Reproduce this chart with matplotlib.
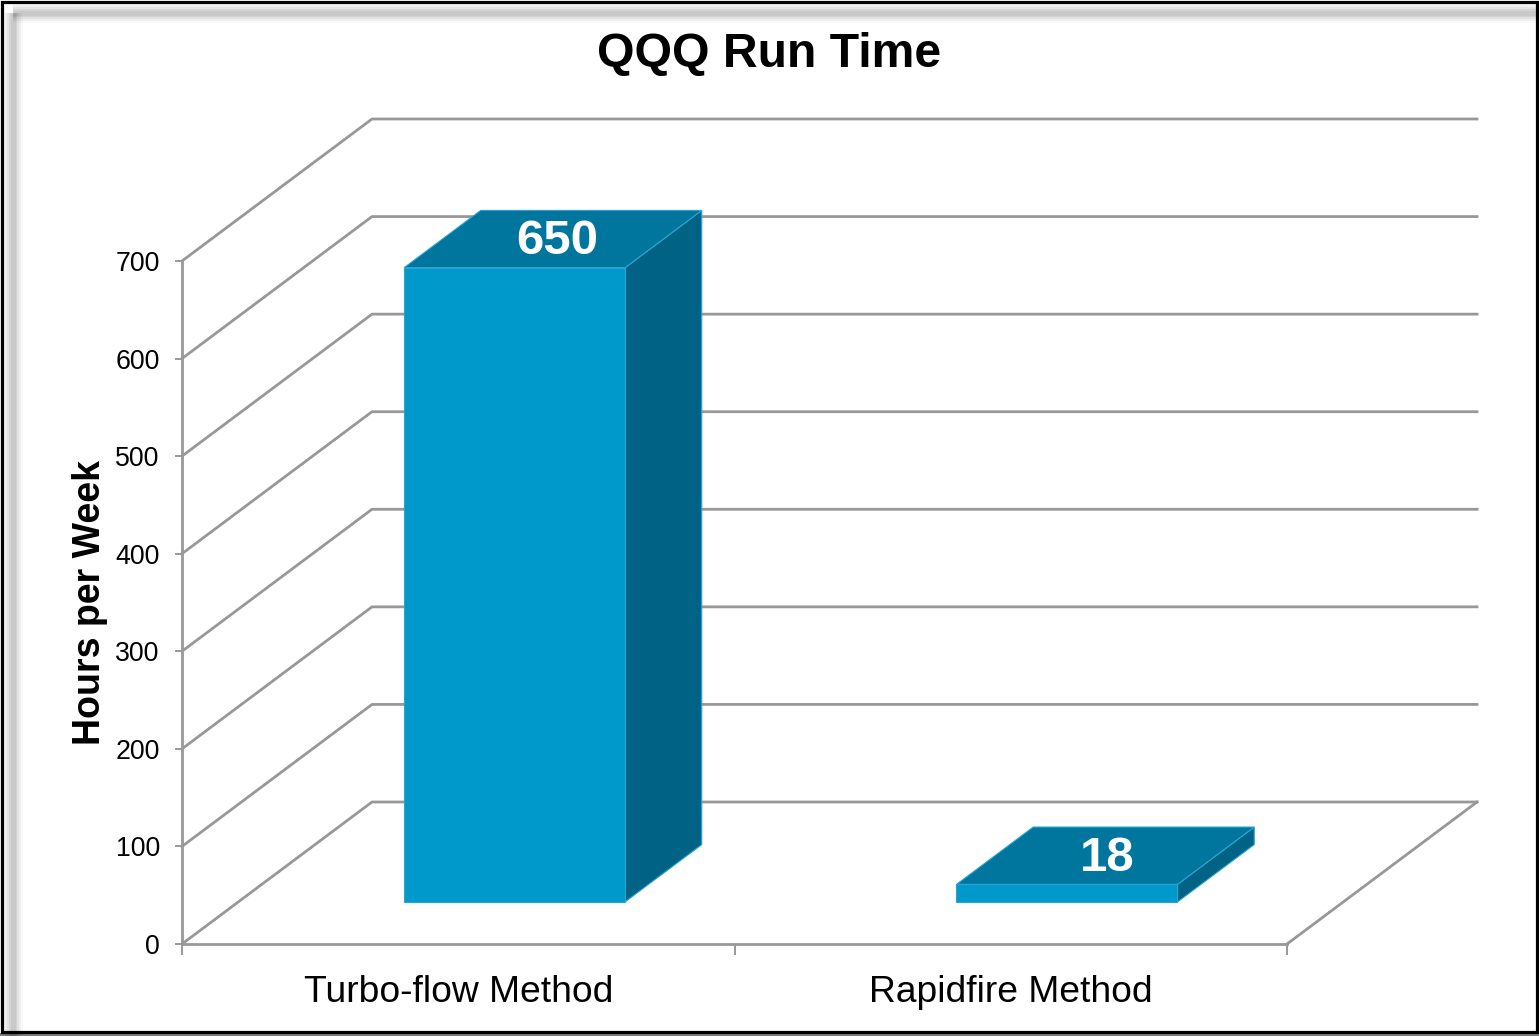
#!/usr/bin/env python3
# -*- coding: utf-8 -*-
import matplotlib
matplotlib.use('Agg')
import matplotlib.pyplot as plt
from matplotlib.patches import Polygon, Rectangle
from matplotlib.lines import Line2D

plt.rcParams['font.family'] = ['Liberation Sans', 'DejaVu Sans']

categories = ['Turbo-flow Method', 'Rapidfire Method']
hours = [650, 18]
y_ticks = [0, 100, 200, 300, 400, 500, 600, 700]

W, H = 1539, 1036
# fake 3d: how far the back wall is shifted from the front plane, in data units
depth_x = 190 / 552.5
depth_y = 142 / 0.9757
bar_width = 0.4
bar_near = 0.296
bar_far = 0.70

grid_col = '#989898'
front_col = '#0099cc'
top_col = '#00759e'
side_col = '#006385'
edge_col = '#2aa5d0'


def shift(x, y, d):
    "position of front plane point (x, y) pushed back to depth d"
    return (x + d * depth_x, y + d * depth_y)


fig = plt.figure(figsize=(W / 100, H / 100), dpi=100, facecolor='white')

# blurred inner shadow along the top and left
for lw, a in [(20, 0.025), (16, 0.04), (12, 0.05), (8, 0.06), (5, 0.05)]:
    fig.add_artist(Line2D([13 / W, 13 / W], [0, 1 - 13 / H], color='k', lw=lw * 0.72, alpha=a,
                          solid_capstyle='butt'))
    fig.add_artist(Line2D([13 / W, 1], [1 - 13 / H, 1 - 13 / H], color='k', lw=lw * 0.72, alpha=a,
                          solid_capstyle='butt'))

# black frame
fig.add_artist(Rectangle((0, 0), 1, 3 / H, transform=fig.transFigure, color='#808080', lw=0))
fig.add_artist(Rectangle((1.5 / W, 4.5 / H), 1 - 3.5 / W, 1 - 6 / H, transform=fig.transFigure,
                         fill=False, ec='black', lw=2.3))

ax = fig.add_axes([182 / W, (H - 944) / H, (1287 - 182) / W, (944 - 261) / H])
ax.set_xlim(0, 2)
ax.set_ylim(0, 700)
ax.patch.set_alpha(0)
for s in ['top', 'right']:
    ax.spines[s].set_visible(False)
for s in ['left', 'bottom']:
    ax.spines[s].set_color(grid_col)
    ax.spines[s].set_linewidth(2)

ax.set_yticks(y_ticks)
ax.set_xticks([0, 1, 2])
ax.set_xticklabels([])
ax.set_xticks([0.5, 1.5], labels=categories, minor=True)
ax.tick_params(axis='y', length=5, width=1.4, color=grid_col, labelsize=19.3, pad=11)
ax.tick_params(axis='x', which='major', length=8, width=1.4, color=grid_col)
ax.tick_params(axis='x', which='minor', length=0, labelsize=26.8, pad=22.4)
ax.set_ylabel('Hours per Week', fontsize=27, fontweight='bold', labelpad=5.5)

# walls and floor
for v in y_ticks:
    bx, by = shift(0, v, 1)
    ax.plot([0, bx, 2 + depth_x], [v, by, by], color=grid_col, lw=2, clip_on=False, zorder=1)
ax.plot([2, 2 + depth_x], [0, depth_y], color=grid_col, lw=2, clip_on=False, zorder=1)

label_dx = [3, 1]
for i, v in enumerate(hours):
    x0 = i + 0.5 - bar_width / 2
    x1 = i + 0.5 + bar_width / 2
    fl = shift(x0, 0, bar_near)
    fr = shift(x1, 0, bar_near)
    tl = shift(x0, v, bar_near)
    tr = shift(x1, v, bar_near)
    bl2 = shift(x0, v, bar_far)
    br2 = shift(x1, v, bar_far)
    brb = shift(x1, 0, bar_far)
    ax.add_patch(Polygon([fr, brb, br2, tr], fc=side_col, ec=edge_col, lw=0.8, clip_on=False, zorder=3))
    ax.add_patch(Polygon([tl, tr, br2, bl2], fc=top_col, ec=edge_col, lw=0.8, clip_on=False, zorder=3))
    ax.add_patch(Polygon([fl, fr, tr, tl], fc=front_col, ec=edge_col, lw=0.8, clip_on=False, zorder=4))
    cx = (tl[0] + br2[0]) / 2
    cy = (tl[1] + br2[1]) / 2
    ax.annotate(str(v), (cx, cy), xytext=(label_dx[i], 1.5), textcoords='offset points',
                color='white', fontsize=35.4, fontweight='bold',
                ha='center', va='center_baseline', zorder=5, annotation_clip=False)

fig.text(769 / W, 1 - 55 / H, 'QQQ Run Time', fontsize=34.7, fontweight='bold',
         ha='center', va='center', color='black')

fig.savefig('out.png', dpi=100)
